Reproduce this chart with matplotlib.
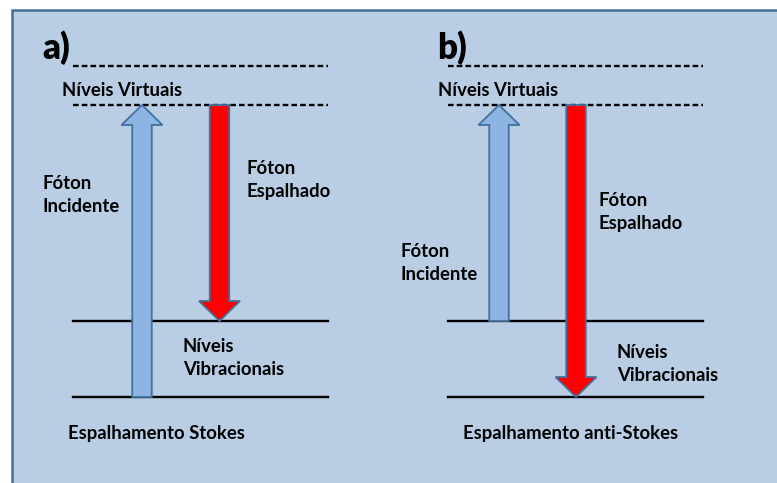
import matplotlib
matplotlib.use("Agg")
import matplotlib.pyplot as plt
from matplotlib.patches import Rectangle, FancyArrow

plt.rcParams["font.family"] = ["Lato", "DejaVu Sans"]
plt.rcParams["font.weight"] = "bold"

# níveis de energia (posição vertical em pixels)
virtual_levels = [66, 105]
vib_levels = [321, 397]

# extensão horizontal dos níveis de cada painel
panel_x = {"a": (73, 328), "b": (448, 703)}

# setas: (x, y_inicio, y_fim)
arrows_a = {"incidente": (142, 397, 105), "espalhado": (219.5, 105, 321)}
arrows_b = {"incidente": (499, 321, 105), "espalhado": (576, 105, 397)}

bg_color = "#b9cde5"
border_color = "#41719c"
blue_arrow = "#8eb4e3"
red_arrow = "#ff0000"

fig = plt.figure(figsize=(7.77, 4.83), dpi=100)
ax = fig.add_axes([0, 0, 1, 1])
ax.set_xlim(0, 777)
ax.set_ylim(483, 0)
ax.axis("off")

ax.add_patch(Rectangle((12, 10), 800, 500, facecolor=bg_color,
                       edgecolor=border_color, linewidth=1.8))


def draw_arrow(x, y0, y1, color):
    ar = FancyArrow(x, y0, 0, y1 - y0, width=19.5, head_width=41,
                    head_length=20, length_includes_head=True,
                    facecolor=color, edgecolor=border_color, linewidth=1.3,
                    zorder=2)
    ax.add_patch(ar)


for key in ["a", "b"]:
    x0, x1 = panel_x[key]
    for y in virtual_levels:
        ax.plot([x0, x1], [y, y], color="black", linewidth=1.7,
                linestyle=(0, (2.4, 1.3)), zorder=1)
    for y in vib_levels:
        ax.plot([x0, x1], [y, y], color="black", linewidth=1.7, zorder=1)

for arrows in [arrows_a, arrows_b]:
    x, y0, y1 = arrows["incidente"]
    draw_arrow(x, y0, y1, blue_arrow)
    x, y0, y1 = arrows["espalhado"]
    draw_arrow(x, y0, y1, red_arrow)

fs = 13.3
ls = 1.45
# painel a
ax.text(42, 48, "a)", fontsize=25, fontweight="heavy", va="center", ha="left")
ax.text(62, 90, "Níveis Virtuais", fontsize=fs, va="center")
ax.text(43, 195, "Fóton\nIncidente", fontsize=fs, va="center", linespacing=ls)
ax.text(247, 180, "Fóton\nEspalhado", fontsize=fs, va="center", linespacing=ls)
ax.text(183, 358, "Níveis\nVibracionais", fontsize=fs, va="center", linespacing=ls)
ax.text(68, 434, "Espalhamento Stokes", fontsize=fs, va="center")

# painel b
ax.text(437, 48, "b)", fontsize=25, fontweight="heavy", va="center", ha="left")
ax.text(438, 90, "Níveis Virtuais", fontsize=fs, va="center")
ax.text(400, 263, "Fóton\nIncidente", fontsize=fs, va="center", linespacing=ls)
ax.text(598, 212, "Fóton\nEspalhado", fontsize=fs, va="center", linespacing=ls)
ax.text(617, 364, "Níveis\nVibracionais", fontsize=fs, va="center", linespacing=ls)
ax.text(463, 434, "Espalhamento anti-Stokes", fontsize=fs, va="center")

fig.savefig("out.png", dpi=100, facecolor="white")
